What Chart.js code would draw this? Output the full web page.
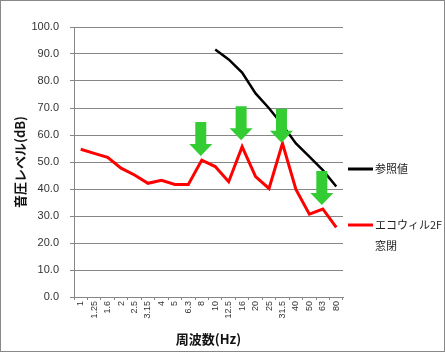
<!DOCTYPE html>
<html>
<head>
<meta charset="utf-8">
<script src="https://cdn.jsdelivr.net/npm/chart.js@4.4.1/dist/chart.umd.min.js"></script>
<style>
html,body{margin:0;padding:0;background:#fff;}
#wrap{position:relative;width:445px;height:352px;}
</style>
</head>
<body>
<div id="wrap"><canvas id="c" width="445" height="352"></canvas></div>
<script>
const categories = ['1','1.25','1.6','2','2.5','3.15','4','5','6.3','8','10','12.5','16','20','25','31.5','40','50','63','80'];
const referenceValues = [null,null,null,null,null,null,null,null,null,null,91.7,88.0,83.1,75.4,69.9,63.7,56.9,52.0,47.0,40.9];
const ecowillValues = [54.7,53.2,51.7,47.7,45.2,42.1,43.2,41.7,41.7,50.7,48.3,42.7,55.7,44.6,40.2,56.9,39.8,30.7,32.6,25.8];
const seriesNames = ['参照値', 'エコウィル2F\n窓閉'];
const yTicks = [0,10,20,30,40,50,60,70,80,90,100];
const arrowCategories = ['8','16','31.5','63'];
const arrowTipValues = [52.2,58.1,57.1,34.1];
const yTitle = '音圧レベル(dB)';
const xTitle = '周波数(Hz)';

const decor = {
  id: 'decor',
  afterDatasetsDraw(chart) {
    const ctx = chart.ctx;
    const xs = chart.scales.x, ys = chart.scales.y;
    ctx.save();
    // arrows
    ctx.fillStyle = '#33CC33';
    arrowCategories.forEach((cat, i) => {
      const cx = xs.getPixelForValue(categories.indexOf(cat)) - 1;
      const tip = ys.getPixelForValue(arrowTipValues[i]);
      const total = 34, head = 12, sw = 5.5, hw = 11.5;
      ctx.beginPath();
      ctx.moveTo(cx - sw, tip - total);
      ctx.lineTo(cx + sw, tip - total);
      ctx.lineTo(cx + sw, tip - head);
      ctx.lineTo(cx + hw, tip - head);
      ctx.lineTo(cx, tip);
      ctx.lineTo(cx - hw, tip - head);
      ctx.lineTo(cx - sw, tip - head);
      ctx.closePath();
      ctx.fill();
    });
    ctx.restore();
  },
  afterDraw(chart) {
    const ctx = chart.ctx;
    const area = chart.chartArea;
    ctx.save();
    // legend
    const ds = chart.data.datasets;
    const rows = [169, 225];
    ctx.font = '11px "Noto Sans CJK JP"';
    ctx.textBaseline = 'middle';
    ctx.textAlign = 'left';
    ds.forEach((d, i) => {
      const y = rows[i];
      ctx.strokeStyle = d.borderColor;
      ctx.lineWidth = 3;
      ctx.beginPath();
      ctx.moveTo(348, y);
      ctx.lineTo(373, y);
      ctx.stroke();
      ctx.fillStyle = '#222';
      d.label.split('\n').forEach((ln, j) => ctx.fillText(ln, 375, y + j * 21));
    });
    // titles
    ctx.fillStyle = '#111';
    ctx.font = 'bold 13px "Noto Sans CJK JP"';
    ctx.textAlign = 'center';
    ctx.textBaseline = 'middle';
    ctx.fillText(xTitle, (area.left + area.right) / 2, 339);
    ctx.save();
    ctx.translate(20, (area.top + area.bottom) / 2);
    ctx.rotate(-Math.PI / 2);
    ctx.fillText(yTitle, 0, 0);
    ctx.restore();
    // outer border
    ctx.strokeStyle = '#888';
    ctx.lineWidth = 1;
    ctx.strokeRect(0.5, 0.5, 444, 351);
    ctx.restore();
  }
};

new Chart(document.getElementById('c'), {
  type: 'line',
  data: {
    labels: categories,
    datasets: [
      { label: seriesNames[0], data: referenceValues, borderColor: '#000000', backgroundColor: '#000000', borderWidth: 2.5, pointRadius: 0, tension: 0, spanGaps: false },
      { label: seriesNames[1], data: ecowillValues, borderColor: '#FF0000', backgroundColor: '#FF0000', borderWidth: 3, pointRadius: 0, tension: 0 }
    ]
  },
  options: {
    responsive: false,
    animation: false,
    devicePixelRatio: 1,
    layout: { padding: { left: 0, top: 27, right: 102, bottom: 0 } },
    plugins: { legend: { display: false }, tooltip: { enabled: false } },
    scales: {
      x: {
        offset: true,
        afterFit(s) { s.height = 55; },
        grid: { display: true, offset: true, drawOnChartArea: false, drawTicks: true, tickLength: 3, color: '#868686' },
        border: { color: '#868686', width: 1 },
        ticks: { autoSkip: false, minRotation: 90, maxRotation: 90, padding: 1, color: '#333', font: { family: '"Liberation Sans"', size: 9 } }
      },
      y: {
        min: 0, max: 100,
        afterFit(s) { s.width = 74; },
        afterBuildTicks(s) { s.ticks = yTicks.map(v => ({ value: v })); },
        grid: { color: '#868686', tickLength: 4 },
        border: { color: '#868686', width: 1 },
        ticks: { padding: 11, color: '#333', font: { family: '"Liberation Sans"', size: 11 }, callback: v => Number(v).toFixed(1) }
      }
    }
  },
  plugins: [decor]
});
</script>
</body>
</html>
